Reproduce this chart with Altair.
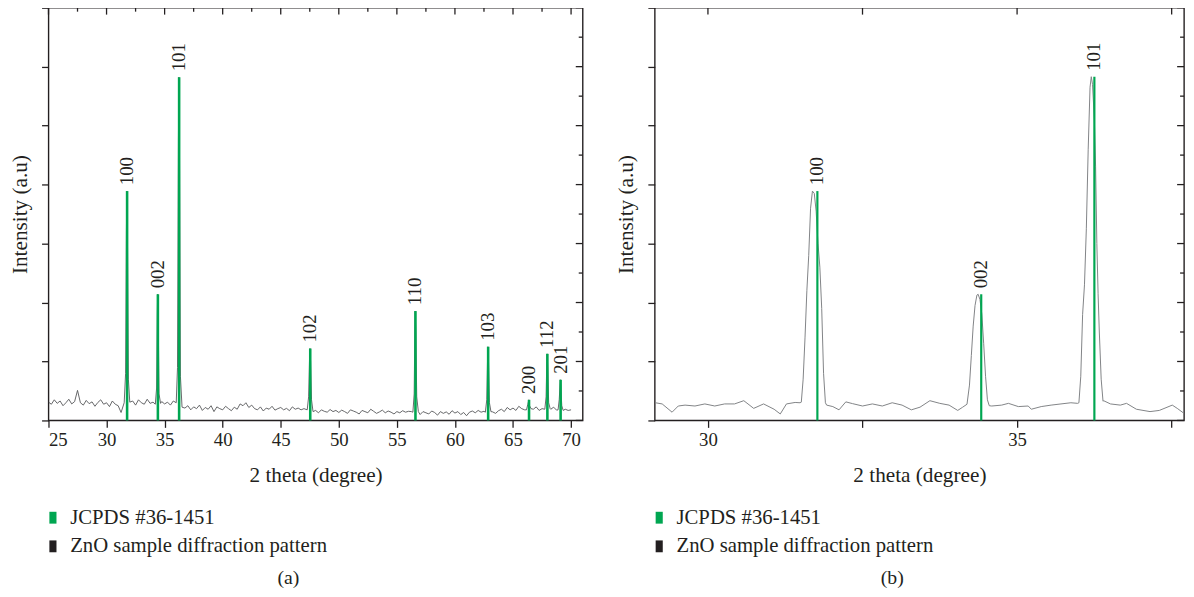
import altair as alt
import pandas as pd

FONT = "Liberation Serif"
INK = "#231f20"
GREEN = "#00a651"

# ---------------- data: panel (a) ----------------
left_base_start = 25.0
left_base_step = 0.25
left_base_y = [
    0.62, 0.55, 0.70, 0.58, 0.66, 0.50, 0.60, 0.72, 0.56, 0.64, 1.02, 0.60, 0.52, 0.68, 0.57, 0.63, 0.48, 0.61, 0.70, 0.55,
    0.60, 0.47, 0.66, 0.55, 0.50, 0.27, 0.62, 0.60, 0.58, 0.66, 0.52, 0.70, 0.60, 0.55, 0.72, 0.58, 0.62, 0.50, 0.55, 0.64,
    0.56, 0.62, 0.52, 0.66, 0.60, 0.55, 0.48, 0.42, 0.50, 0.36, 0.46, 0.40, 0.52, 0.34, 0.44, 0.38, 0.50, 0.30, 0.46, 0.40,
    0.36, 0.48, 0.40, 0.33, 0.45, 0.38, 0.56, 0.50, 0.60, 0.44, 0.52, 0.40, 0.36, 0.46, 0.32, 0.42, 0.38, 0.48, 0.35, 0.40,
    0.44, 0.36, 0.41, 0.33, 0.46, 0.38, 0.42, 0.36, 0.40, 0.28, 0.38, 0.30, 0.34, 0.26, 0.36, 0.31, 0.28, 0.37, 0.30, 0.34,
    0.27, 0.35, 0.30, 0.24, 0.36, 0.32, 0.28, 0.22, 0.34, 0.30, 0.26, 0.38, 0.31, 0.24, 0.29, 0.35, 0.26, 0.32, 0.28, 0.22,
    0.30, 0.26, 0.33, 0.28, 0.31, 0.30, 0.24, 0.35, 0.20, 0.30, 0.26, 0.22, 0.32, 0.27, 0.18, 0.30, 0.24, 0.29, 0.21, 0.33,
    0.25, 0.30, 0.20, 0.27, 0.16, 0.28, 0.32, 0.26, 0.34, 0.28, 0.31, 0.25, 0.35, 0.29, 0.24, 0.33, 0.38, 0.30, 0.44, 0.36,
    0.42, 0.34, 0.48, 0.40, 0.36, 0.44, 0.30, 0.38, 0.46, 0.34, 0.40, 0.36, 0.42, 0.38, 0.45, 0.35, 0.40, 0.33, 0.38, 0.34,
    0.36,
]

left_peak_points = [
    [(31.52, 0.60), (31.64, 1.60), (31.71, 6.40), (31.75, 7.78), (31.80, 6.20), (31.88, 1.40), (32.00, 0.62)],
    [(34.20, 0.55), (34.31, 1.10), (34.37, 3.60), (34.40, 4.28), (34.45, 3.40), (34.52, 0.90), (34.65, 0.58)],
    [(36.00, 0.60), (36.11, 1.80), (36.19, 9.50), (36.23, 11.64), (36.28, 9.20), (36.36, 1.50), (36.50, 0.45)],
    [(47.28, 0.36), (47.40, 0.80), (47.48, 2.10), (47.52, 2.44), (47.57, 2.00), (47.65, 0.70), (47.78, 0.30)],
    [(56.38, 0.28), (56.49, 0.90), (56.55, 3.10), (56.58, 3.71), (56.63, 3.00), (56.71, 0.80), (56.85, 0.30)],
    [(62.62, 0.28), (62.74, 0.70), (62.81, 2.10), (62.84, 2.50), (62.89, 2.00), (62.97, 0.60), (63.10, 0.30)],
    [(66.16, 0.36), (66.28, 0.55), (66.36, 0.70), (66.42, 0.50), (66.55, 0.40)],
    [(67.74, 0.38), (67.85, 0.80), (67.91, 2.00), (67.94, 2.26), (67.99, 1.80), (68.07, 0.60), (68.20, 0.40)],
    [(68.88, 0.36), (68.98, 0.70), (69.05, 1.20), (69.08, 1.38), (69.12, 1.10), (69.20, 0.50), (69.32, 0.34)],
]

jcpds_hkl = ["100", "002", "101", "102", "110", "103", "200", "112", "201"]
jcpds_pos = [31.77, 34.42, 36.25, 47.54, 56.60, 62.86, 66.38, 67.96, 69.10]
jcpds_left_h = [7.78, 4.28, 11.64, 2.44, 3.71, 2.50, 0.70, 2.26, 1.38]

# ---------------- data: panel (b) ----------------
right_x = [
    29.15, 29.26, 29.42, 29.52, 29.63, 29.79, 29.95, 30.11, 30.27, 30.43, 30.58, 30.74, 30.90, 31.07, 31.17, 31.27, 31.41, 31.49,
    31.51, 31.54, 31.57, 31.60, 31.63, 31.66, 31.69, 31.72, 31.75, 31.78, 31.81, 31.84, 31.87, 31.90,
    31.92, 32.02, 32.12, 32.23, 32.34, 32.50, 32.66, 32.82, 32.98, 33.14, 33.29, 33.43, 33.59, 33.75, 33.90, 34.04, 34.12,
    34.19, 34.23, 34.26, 34.29, 34.32, 34.35, 34.37, 34.40, 34.43, 34.46, 34.49, 34.52, 34.55,
    34.59, 34.75, 34.86, 35.02, 35.18, 35.23, 35.39, 35.55, 35.71, 35.87, 35.98,
    36.00, 36.03, 36.06, 36.09, 36.12, 36.15, 36.18, 36.20, 36.22, 36.25, 36.27, 36.29, 36.31, 36.33, 36.36, 36.39,
    36.40, 36.51, 36.67, 36.77, 36.93, 37.15, 37.30, 37.51, 37.59, 37.70,
]
right_y = [
    0.60, 0.56, 0.28, 0.49, 0.52, 0.49, 0.56, 0.49, 0.56, 0.56, 0.67, 0.41, 0.56, 0.38, 0.22, 0.56, 0.61, 0.60,
    0.62, 1.40, 2.80, 4.40, 5.60, 7.20, 7.78, 7.70, 7.10, 6.00, 5.20, 3.80, 1.60, 0.60,
    0.52, 0.47, 0.36, 0.63, 0.57, 0.49, 0.56, 0.49, 0.60, 0.52, 0.36, 0.45, 0.67, 0.58, 0.52, 0.34, 0.45,
    0.55, 1.20, 2.20, 3.20, 3.90, 4.25, 4.28, 4.10, 3.60, 2.60, 1.50, 0.70, 0.50,
    0.49, 0.52, 0.58, 0.47, 0.49, 0.38, 0.47, 0.52, 0.56, 0.60, 0.58,
    0.60, 1.50, 3.60, 4.60, 6.50, 9.20, 11.30, 11.66, 11.40, 10.20, 8.60, 6.00, 4.30, 3.00, 1.40, 0.65,
    0.67, 0.56, 0.52, 0.58, 0.38, 0.30, 0.34, 0.52, 0.41, 0.24,
]
right_hkl = ["100", "002", "101"]
right_pos = [31.77, 34.42, 36.25]
right_h = [7.78, 4.28, 11.66]

legend_entries = ["JCPDS #36-1451", "ZnO sample diffraction pattern"]
legend_colors = [GREEN, INK]

y_ticks = list(range(0, 15))
left_x_ticks = [25, 27.5, 30, 32.5, 35, 37.5, 40, 42.5, 45, 47.5, 50, 52.5, 55, 57.5, 60, 62.5, 65, 67.5, 70]
right_x_ticks = [30, 32.5, 35, 37.5]

# ---------------- build tables ----------------
base_pts = []
for i, v in enumerate(left_base_y):
    x = round(left_base_start + i * left_base_step, 3)
    if all(abs(x - p[len(p) // 2][0]) >= 0.3 for p in left_peak_points):
        base_pts.append((x, v))
all_left = base_pts + [pt for p in left_peak_points for pt in p]
left_df = pd.DataFrame(sorted(all_left), columns=["x", "y"])
left_sticks = pd.DataFrame({"x": jcpds_pos, "h": jcpds_left_h, "hkl": jcpds_hkl})

right_df = pd.DataFrame({"x": right_x, "y": right_y})
right_sticks = pd.DataFrame({"x": right_pos, "h": right_h, "hkl": right_hkl})

legend_df = pd.DataFrame({"series": legend_entries})


def panel(line_df, sticks_df, xdomain, xticks, major_fn, major_test, width, height, caption,
          line_color, line_width, stick_width, cap_dx):
    xs = alt.Scale(domain=xdomain, nice=False, zero=False)
    ys = alt.Scale(domain=[0, 14], nice=False, zero=False)
    major_vals = [t for t in xticks if major_fn(t)]
    minor_vals = [t for t in xticks if not major_fn(t)]

    x_axis = alt.Axis(
        values=xticks, domain=False, grid=False, format="~g",
        labelExpr="datum.value % 5 === 0 ? datum.label : ''",
        tickSize={"condition": {"test": major_test, "value": 7}, "value": 4},
        tickColor=INK, tickWidth=1.3,
        labelFont=FONT, labelFontSize=19, labelColor=INK, labelPadding=3,
        title="2 theta (degree)", titleFont=FONT, titleFontSize=21.5,
        titleFontWeight="normal", titleColor=INK, titlePadding=16,
    )
    y_axis = alt.Axis(
        values=y_ticks, domain=False, grid=False, labels=False,
        tickSize={"condition": {"test": "datum.value % 2 === 0", "value": 7}, "value": 4},
        tickColor=INK, tickWidth=1.3,
        title="Intensity (a.u)", titleFont=FONT, titleFontSize=21.5,
        titleFontWeight="normal", titleColor=INK, titlePadding=10,
    )

    line = alt.Chart(line_df).mark_line(color=line_color, strokeWidth=line_width, clip=True).encode(
        x=alt.X("x:Q", scale=xs, axis=x_axis),
        y=alt.Y("y:Q", scale=ys, axis=y_axis),
    )
    sticks = alt.Chart(sticks_df).mark_rule(color=GREEN, strokeWidth=stick_width).encode(
        x="x:Q", y="h:Q", y2=alt.datum(0),
    )
    labels = alt.Chart(sticks_df).mark_text(
        angle=270, align="left", baseline="middle", dx=6,
        font=FONT, fontSize=19, color=INK,
    ).encode(x="x:Q", y="h:Q", text="hkl:N")

    layers = [line, sticks, labels]
    for vals, ln in ((major_vals, 7), (minor_vals, 4)):
        if vals:
            d = pd.DataFrame({"t": vals})
            layers.append(alt.Chart(d).mark_rule(color=INK, strokeWidth=1.3).encode(
                x="t:Q", y=alt.value(0), y2=alt.value(ln)))
    for vals, ln in (([v for v in y_ticks if v % 2 == 0], 7), ([v for v in y_ticks if v % 2 == 1], 4)):
        d = pd.DataFrame({"v": vals})
        layers.append(alt.Chart(d).mark_rule(color=INK, strokeWidth=1.3).encode(
            y="v:Q", x=alt.value(width - ln), x2=alt.value(width)))

    legend_layer = alt.Chart(legend_df).mark_square(opacity=0, size=10).encode(
        x=alt.datum(xdomain[0]), y=alt.datum(0),
        color=alt.Color(
            "series:N",
            scale=alt.Scale(domain=legend_entries, range=legend_colors),
            sort=legend_entries,
            legend=alt.Legend(
                orient="none", legendX=-6, legendY=506, direction="vertical", title=None,
                symbolType="M-0.6,-1H0.6V1H-0.6Z", symbolSize=144, symbolOpacity=1,
                symbolStrokeWidth=0,
                labelFont=FONT, labelFontSize=21, labelColor=INK, labelOffset=7,
                rowPadding=7, padding=0, labelLimit=400,
            ),
        ),
    )
    layers.append(legend_layer)

    return alt.layer(*layers).properties(
        width=width, height=height,
        title=alt.TitleParams(caption, orient="bottom", anchor="middle", frame="bounds",
                              font=FONT, fontSize=20, fontWeight="normal", color=INK,
                              offset=12, dx=cap_dx),
    )


left = panel(left_df, left_sticks, [25, 71], left_x_ticks, lambda t: t % 5 == 0,
             "datum.value % 5 === 0", 541, 418, "(a)", "#555658", 0.9, 2.6, -8)
right = panel(right_df, right_sticks, [29.14, 37.7], right_x_ticks, lambda t: True,
              "true", 536, 418, "(b)", "#808285", 1.0, 2.2, -8)

chart = alt.hconcat(left, right, spacing=30).resolve_scale(color="independent").configure(
    padding={"left": 0, "top": -6, "right": 0, "bottom": -4},
).configure_view(stroke=INK, strokeWidth=1.4)

chart.save("out.html", embed_options={"renderer": "svg", "actions": False})
